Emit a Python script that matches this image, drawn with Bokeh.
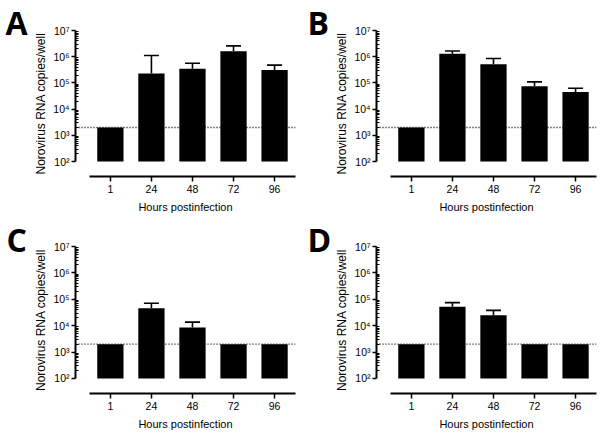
from bokeh.plotting import figure
from bokeh.models import (Range1d, FixedTicker, Span, Whisker, TeeHead,
                          ColumnDataSource)
from bokeh.layouts import row, column
from bokeh.embed import file_html
from bokeh.resources import INLINE

NAN = float("nan")

# ---- data ----
hours = ["1", "24", "48", "72", "96"]
lod = 2000  # limit of detection (dotted line)

a_mean = [2000, 2.3e5, 3.5e5, 1.6e6, 3.1e5]
a_upper = [NAN, 1.12e6, 5.6e5, 2.6e6, 4.8e5]

b_mean = [2000, 1.3e6, 5.2e5, 7.4e4, 4.5e4]
b_upper = [NAN, 1.66e6, 8.5e5, 1.1e5, 6.3e4]

c_mean = [2000, 4.6e4, 8.6e3, 2000, 2000]
c_upper = [NAN, 7.1e4, 1.37e4, NAN, NAN]

d_mean = [2000, 5.2e4, 2.5e4, 2000, 2000]
d_upper = [NAN, 7.5e4, 3.8e4, NAN, NAN]

y_label = "Norovirus RNA copies/well"
x_label = "Hours postinfection"
decades = [2, 3, 4, 5, 6, 7]
sup = {2: "²", 3: "³", 4: "⁴", 5: "⁵", 6: "⁶", 7: "⁷"}

FONT = "Liberation Sans"


def make_panel(letter, means, uppers, width, height, left, right, top, bottom,
               letter_offset, letter_standoff):
    xs = list(range(1, len(hours) + 1))
    p = figure(width=width, height=height,
               x_range=Range1d(0.15, 5.51), y_range=Range1d(27, 1e7),
               y_axis_type="log", output_backend="svg", toolbar_location=None,
               min_border_left=left, min_border_right=right,
               min_border_top=top, min_border_bottom=bottom)
    p.outline_line_color = None
    p.xgrid.visible = False
    p.ygrid.visible = False

    # dotted detection limit, under the bars
    p.add_layout(Span(location=lod, dimension="width", line_color="black",
                      line_width=1.3, line_dash="1 2", level="underlay"))

    src = ColumnDataSource(dict(x=xs, top=means, upper=uppers))
    p.vbar(x="x", top="top", bottom=100, width=0.64, source=src,
           fill_color="black", line_color=None)
    p.add_layout(Whisker(base="x", lower="top", upper="upper", source=src,
                         dimension="height", line_color="black", line_width=1.6,
                         lower_head=None,
                         upper_head=TeeHead(size=15, line_color="black", line_width=1.6)))

    # x axis
    xa = p.xaxis[0]
    xa.ticker = FixedTicker(ticks=xs)
    xa.major_label_overrides = {x: h for x, h in zip(xs, hours)}
    xa.bounds = (0.5, 5.5)
    xa.axis_line_width = 2
    xa.axis_line_color = "black"
    xa.major_tick_out = 5
    xa.major_tick_in = 0
    xa.major_tick_line_width = 1.5
    xa.minor_tick_line_color = None
    xa.major_label_standoff = 3
    xa.major_label_text_font = FONT
    xa.major_label_text_font_size = "10.5px"
    xa.major_label_text_color = "black"
    xa.axis_label = x_label
    xa.axis_label_text_font = FONT
    xa.axis_label_text_font_style = "normal"
    xa.axis_label_text_font_size = "11px"
    xa.axis_label_text_color = "black"
    xa.axis_label_standoff = 5

    # y axis
    ya = p.yaxis[0]
    ya.ticker = FixedTicker(ticks=[10 ** k for k in decades],
                            minor_ticks=[m * 10 ** k for k in decades[:-1] for m in range(2, 10)])
    ya.major_label_overrides = {10 ** k: "10" + sup[k] for k in decades}
    ya.bounds = (100, 1e7)
    ya.axis_line_width = 2
    ya.axis_line_color = "black"
    ya.major_tick_out = 4
    ya.major_tick_in = 0
    ya.major_tick_line_width = 1.5
    ya.minor_tick_out = 0
    ya.minor_tick_in = 3
    ya.minor_tick_line_width = 1
    ya.minor_tick_line_color = "black"
    ya.major_label_standoff = 2
    ya.major_label_text_font = FONT
    ya.major_label_text_font_size = "10.5px"
    ya.major_label_text_color = "black"
    ya.axis_label = y_label
    ya.axis_label_text_font = FONT
    ya.axis_label_text_font_style = "normal"
    ya.axis_label_text_font_size = "12px"
    ya.axis_label_text_color = "black"
    ya.axis_label_standoff = 2

    # panel letter
    p.title.text = letter
    p.title.align = "left"
    p.title.offset = letter_offset
    p.title.standoff = letter_standoff
    p.title.text_font = "Open Sans"
    p.title.text_font_style = "bold"
    p.title.text_font_size = "32px"
    p.title.text_color = "black"
    p.title.vertical_align = "bottom"
    return p


pA = make_panel("A", a_mean, a_upper, 300, 218, 75, 5, 30, 42, -70, -26)
pB = make_panel("B", b_mean, b_upper, 300, 218, 76, 4, 30, 42, -69, -26)
pC = make_panel("C", c_mean, c_upper, 300, 222, 75, 5, 28, 47, -69, -28)
pD = make_panel("D", d_mean, d_upper, 300, 222, 76, 4, 28, 47, -69, -28)

layout = column(row(pA, pB), row(pC, pD))
open("out.html", "w").write(file_html(layout, INLINE))
